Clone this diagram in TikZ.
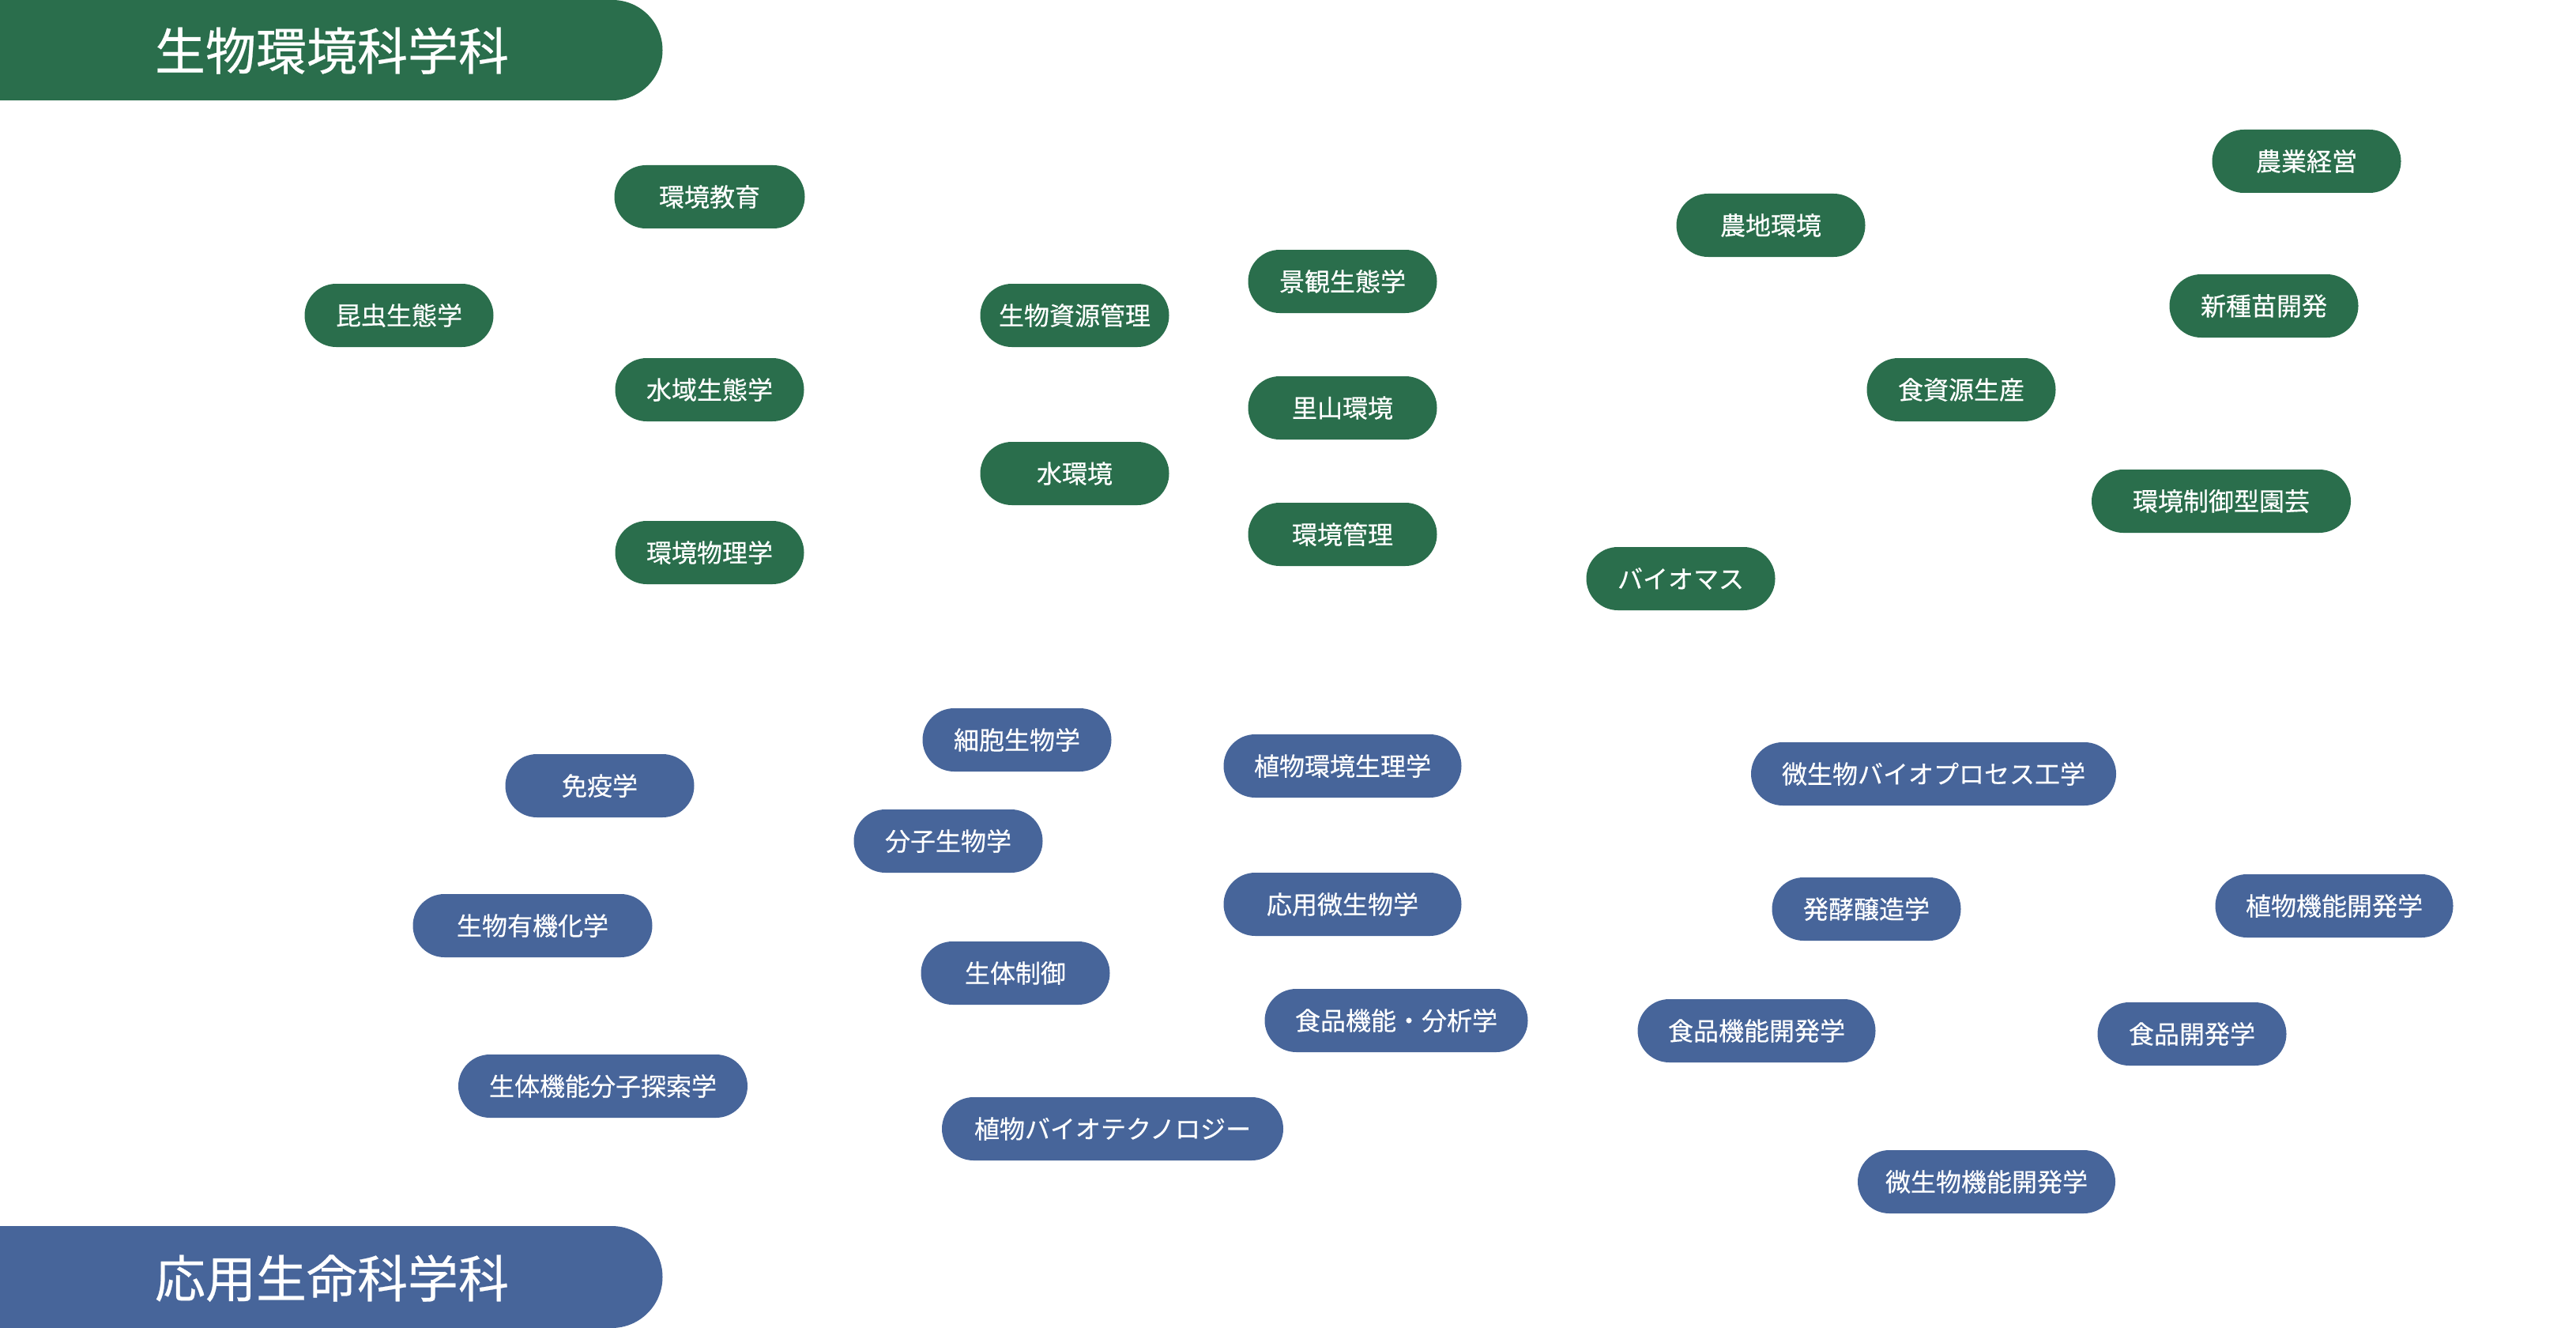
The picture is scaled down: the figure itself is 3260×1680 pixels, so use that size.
\documentclass[tikz,border=0pt]{standalone}
\usepackage{fontspec}
\setmainfont{Noto Sans CJK JP}[FakeBold=0.4]
\usetikzlibrary{shapes.misc}
\definecolor{gcol}{HTML}{2A6E4C}
\definecolor{bcol}{HTML}{47659A}
\tikzset{
  pill/.style={rounded rectangle, minimum height=40pt, inner sep=0pt, text=white,
    font=\fontsize{16}{16}\selectfont},
  gpill/.style={pill, fill=gcol},
  bpill/.style={pill, fill=bcol},
  pw/.style={minimum width=#1*0.5pt},
  bannertext/.style={inner sep=0pt, text=white, font=\fontsize{32}{32}\selectfont}
}
\begin{document}
\begin{tikzpicture}[x=0.5pt,y=-0.5pt]
\useasboundingbox (0,0) rectangle (3260,1680);
\fill[gcol] (-10,0) -- (775,0) arc[start angle=-90, end angle=90, radius=63.5] -- (-10,127) -- cycle;
\node[bannertext] (gh) at (420,64) {生物環境科学科};
\fill[bcol] (-10,1551) -- (774,1551) arc[start angle=-90, end angle=90, radius=64.5] -- (-10,1680) -- cycle;
\node[bannertext] (bh) at (420,1617) {応用生命科学科};
% green
\node[gpill, pw=241] (g1) at (898,249) {環境教育};
\node[gpill, pw=239] (g2) at (505,399) {昆虫生態学};
\node[gpill, pw=239] (g3) at (898,493) {水域生態学};
\node[gpill, pw=239] (g4) at (898,699) {環境物理学};
\node[gpill, pw=239] (g5) at (1360,399) {生物資源管理};
\node[gpill, pw=239] (g6) at (1360,599) {水環境};
\node[gpill, pw=239] (g7) at (1699,356) {景観生態学};
\node[gpill, pw=239] (g8) at (1699,516) {里山環境};
\node[gpill, pw=239] (g9) at (1699,676) {環境管理};
\node[gpill, pw=239] (g10) at (2241,285) {農地環境};
\node[gpill, pw=239] (g11) at (2127,732) {バイオマス};
\node[gpill, pw=239] (g12) at (2482,493) {食資源生産};
\node[gpill, pw=239] (g13) at (2919,204) {農業経営};
\node[gpill, pw=239] (g14) at (2865,387) {新種苗開発};
\node[gpill, pw=328] (g15) at (2811,634) {環境制御型園芸};
% blue
\node[bpill, pw=239] (b1) at (759,994) {免疫学};
\node[bpill, pw=239] (b2) at (1287,936) {細胞生物学};
\node[bpill, pw=239] (b3) at (1200,1064) {分子生物学};
\node[bpill, pw=301] (b4) at (1699,969) {植物環境生理学};
\node[bpill, pw=303] (b5) at (674,1171) {生物有機化学};
\node[bpill, pw=239] (b6) at (1285,1231) {生体制御};
\node[bpill, pw=301] (b7) at (1699,1144) {応用微生物学};
\node[bpill, pw=333] (b8) at (1767,1291) {食品機能・分析学};
\node[bpill, pw=366] (b9) at (763,1374) {生体機能分子探索学};
\node[bpill, pw=432] (b10) at (1408,1428) {植物バイオテクノロジー};
\node[bpill, pw=462] (b11) at (2447,979) {微生物バイオプロセス工学};
\node[bpill, pw=239] (b12) at (2362,1150) {発酵醸造学};
\node[bpill, pw=301] (b13) at (2954,1146) {植物機能開発学};
\node[bpill, pw=301] (b14) at (2223,1304) {食品機能開発学};
\node[bpill, pw=239] (b15) at (2774,1308) {食品開発学};
\node[bpill, pw=326] (b16) at (2514,1495) {微生物機能開発学};
\end{tikzpicture}
\end{document}
